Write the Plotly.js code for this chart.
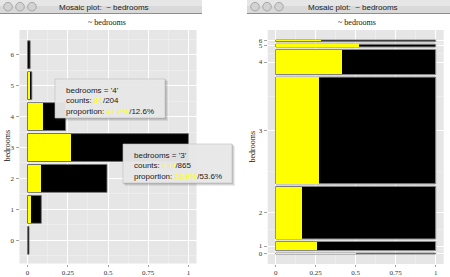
<!DOCTYPE html>
<html>
<head>
<meta charset="utf-8">
<script src="https://cdn.plot.ly/plotly-3.0.1.min.js"></script>
<style>html,body{margin:0;padding:0;background:#fff;}#chart{width:450px;height:277px;}</style>
</head>
<body>
<div id="chart"></div>
<script>
// ---- data ----
var categories = ['0', '1', '2', '3', '4', '5', '6'];
var counts = [8, 74, 427, 865, 204, 23, 14];
var highlighted = [4, 19, 71, 233, 84, 12, 4];
var xTickVals = [0, 0.25, 0.5, 0.75, 1];
var xTickText = ['0', '0.25', '0.5', '0.75', '1'];
var varName = 'bedrooms';
var tips = ['4', '3'];

// ---- derived ----
var W = 450, H = 277;
function px(x) { return x / W; }
function py(y) { return 1 - y / H; }
var total = counts.reduce(function (a, b) { return a + b; }, 0);
var maxCount = Math.max.apply(null, counts);
var idx = categories.map(function (c, i) { return i; });

// left: bar chart widths relative to max
var leftFull = counts.map(function (c) { return c / maxCount; });
var leftHi = highlighted.map(function (h) { return h / maxCount; });

// right: spine plot, heights proportional to counts
var gap = 20;
var centers = [], acc = 0;
counts.forEach(function (c, i) { centers.push(acc + c / 2); acc += c + gap; });
var spanTop = acc - gap;
var rightHi = highlighted.map(function (h, i) { return h / counts[i]; });
var ones = counts.map(function () { return 1; });
var minorRight = [];
for (var i = 0; i < centers.length - 1; i++) minorRight.push((centers[i] + centers[i + 1]) / 2);
var minorLeft = idx.map(function (i) { return i + 0.5; }).concat([-0.5]);

var traces = [
  { type: 'bar', orientation: 'h', y: idx, x: leftFull, width: 0.9, xaxis: 'x', yaxis: 'y',
    marker: { color: '#000', line: { color: '#6e6e6e', width: 0.8 } }, hoverinfo: 'skip' },
  { type: 'bar', orientation: 'h', y: idx, x: leftHi, width: 0.9 * 0.985, xaxis: 'x', yaxis: 'y',
    marker: { color: '#ffff00', line: { width: 0 } }, hoverinfo: 'skip' },
  { type: 'bar', orientation: 'h', y: centers, x: ones, width: counts, xaxis: 'x2', yaxis: 'y2',
    marker: { color: '#000', line: { color: '#8c8c8c', width: 1 } }, hoverinfo: 'skip' },
  { type: 'bar', orientation: 'h', y: centers, x: rightHi, width: counts.map(function (c) { return Math.max(c - 4, 0.0001); }), xaxis: 'x2', yaxis: 'y2',
    marker: { color: '#ffff00', line: { width: 0 } }, hoverinfo: 'skip' }
];

var tickFont = { family: 'Liberation Serif, serif', size: 7, color: '#333' };
function xAxis(domain) {
  return {
    domain: domain, range: [-0.05, 1.05], tickmode: 'array', tickvals: xTickVals, ticktext: xTickText,
    ticks: 'outside', ticklen: 2, tickwidth: 0.6, tickcolor: '#666', tickfont: tickFont,
    showgrid: true, gridcolor: '#ffffff', gridwidth: 1, zeroline: false, showline: false,
    minor: { dtick: 0.125, tick0: 0, showgrid: true, gridcolor: '#f3f3f3', gridwidth: 0.5, ticks: '' },
    fixedrange: true
  };
}

var layout = {
  width: W, height: H, margin: { l: 0, r: 0, t: 0, b: 0 },
  paper_bgcolor: '#ffffff', plot_bgcolor: '#e6e6e6',
  showlegend: false, barmode: 'overlay', bargap: 0,
  xaxis: xAxis([px(19.5), px(196.5)]),
  xaxis2: Object.assign(xAxis([px(267.7), px(443.7)]), { anchor: 'y2' }),
  yaxis: {
    domain: [py(263.5), py(30)], range: [-0.75, 6.8], tickmode: 'array', tickvals: idx, ticktext: categories,
    ticks: 'outside', ticklen: 3, tickwidth: 0.6, tickcolor: '#666', tickfont: tickFont,
    showgrid: true, gridcolor: '#ffffff', gridwidth: 1, zeroline: false, showline: false,
    minor: { tickmode: 'array', tickvals: minorLeft, showgrid: true, gridcolor: '#f3f3f3', gridwidth: 0.5, ticks: '' },
    fixedrange: true
  },
  yaxis2: {
    anchor: 'x2',
    domain: [py(264), py(30)], range: [-80.7, spanTop + 80.7], tickmode: 'array', tickvals: centers, ticktext: categories,
    ticks: 'outside', ticklen: 3, tickwidth: 0.6, tickcolor: '#666', tickfont: tickFont,
    showgrid: true, gridcolor: '#ffffff', gridwidth: 1, zeroline: false, showline: false,
    minor: { tickmode: 'array', tickvals: minorRight, showgrid: true, gridcolor: '#f3f3f3', gridwidth: 0.5, ticks: '' },
    fixedrange: true
  },
  shapes: [],
  annotations: []
};

// window chrome
function titleBar(x0, x1) {
  layout.shapes.push({ type: 'rect', xref: 'paper', yref: 'paper', x0: px(x0), x1: px(x1), y0: py(13), y1: py(0),
    fillcolor: '#d9d9d9', line: { width: 0 } });
  layout.shapes.push({ type: 'rect', xref: 'paper', yref: 'paper', x0: px(x0), x1: px(x1), y0: py(6), y1: py(0),
    fillcolor: '#e6e6e6', line: { width: 0 } });
  layout.shapes.push({ type: 'line', xref: 'paper', yref: 'paper', x0: px(x0), x1: px(x1), y0: py(13.5), y1: py(13.5),
    line: { color: '#8d8d8d', width: 1 } });
  [8, 20, 32].forEach(function (dx) {
    var cx = x0 + dx;
    layout.shapes.push({ type: 'circle', xref: 'paper', yref: 'paper', x0: px(cx - 4.3), x1: px(cx + 4.3), y0: py(11), y1: py(2.4),
      fillcolor: '#d2d2d2', line: { color: '#9a9a9a', width: 0.8 } });
  });
}
titleBar(0, 202);
titleBar(247, 450);

function addText(x, y, text, font, opts) {
  var a = { xref: 'paper', yref: 'paper', x: px(x), y: py(y), text: text, showarrow: false, font: font,
    xanchor: 'center', yanchor: 'middle' };
  if (opts) Object.assign(a, opts);
  layout.annotations.push(a);
}
var winFont = { family: 'Liberation Sans, DejaVu Sans, sans-serif', size: 8, color: '#222' };
var serifFont = { family: 'Liberation Serif, serif', size: 8, color: '#111' };
addText(104, 7, 'Mosaic plot:  ~ ' + varName, winFont);
addText(352.5, 7, 'Mosaic plot:  ~ ' + varName, winFont);
addText(106.5, 23, '~ ' + varName, serifFont);
addText(356.5, 23, '~ ' + varName, serifFont);
addText(6.5, 146, varName, serifFont, { textangle: -90 });
addText(251.5, 147, varName, serifFont, { textangle: -90 });

// tooltips
function tooltip(cat, x0, y0, x1, y1) {
  var i = categories.indexOf(cat);
  var sh = [[3, 0.10], [2, 0.12], [1, 0.15]];
  sh.forEach(function (s) {
    layout.shapes.push({ type: 'rect', xref: 'paper', yref: 'paper', x0: px(x0 + s[0] - 1), x1: px(x1 + s[0]), y0: py(y1 + s[0]), y1: py(y0 + s[0] - 1),
      fillcolor: 'rgba(60,60,60,' + s[1] + ')', line: { width: 0 } });
  });
  layout.shapes.push({ type: 'rect', xref: 'paper', yref: 'paper', x0: px(x0), x1: px(x1), y0: py(y1), y1: py(y0),
    fillcolor: 'rgba(234,234,234,0.95)', line: { color: '#bdbdbd', width: 0.6 } });
  var pc = (100 * highlighted[i] / counts[i]).toFixed(1) + '%';
  var pt = (100 * counts[i] / total).toFixed(1) + '%';
  var y = '#ffff00';
  var txt = varName + " = '" + cat + "'<br>" +
    'counts: <span style="color:' + y + '">' + highlighted[i] + '</span>/' + counts[i] + '<br>' +
    'proportion: <span style="color:' + y + '">' + pc + '</span>/' + pt;
  addText(x0 + 8.5, y0 + 4.5, txt, { family: 'Liberation Sans, sans-serif', size: 8, color: '#1a1a1a' },
    { xanchor: 'left', yanchor: 'top', align: 'left' });
}
tooltip(tips[0], 55, 79, 165, 118);
tooltip(tips[1], 123, 144, 232, 183);

Plotly.newPlot('chart', traces, layout, { staticPlot: true, displayModeBar: false });
</script>
</body>
</html>
